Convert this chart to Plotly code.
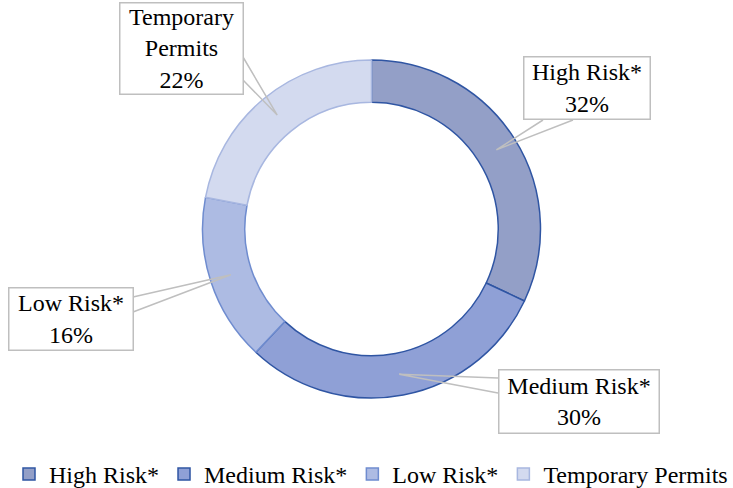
import math
import plotly.graph_objects as go

# ---- data ----
categories = ["High Risk*", "Medium Risk*", "Low Risk*", "Temporary Permits"]
values = [32, 30, 16, 22]
box_labels = ["High Risk*<br>32%", "Medium Risk*<br>30%", "Low Risk*<br>16%", "Temporary<br>Permits<br>22%"]

# ---- style ----
fills = ["#939fc7", "#8fa0d6", "#adbbe3", "#d3daef"]
edges = ["#2f55a3", "#2f55a3", "#6f8ccf", "#a8b7e0"]
W, H = 733, 488
CX, CY, R = 371.5, 229.0, 169.0
HOLE = 0.75
FONT = "Times New Roman, Liberation Serif, serif"
FS = 24

# label boxes: centre x, centre y, width, height (px from top-left)
boxes = [(586.5, 88.5, 127, 63), (578.5, 401, 161, 64), (70.5, 318.5, 125, 63), (181, 49, 124, 92)]
# callout base points on box edges (px)
bases = [((543, 120), (573, 120)),
         ((498, 378), (498, 393)),
         ((133, 297), (133, 312)),
         ((243, 57), (243, 80))]

def px(x, y):
    return x / W, 1 - y / H

fig = go.Figure(go.Pie(
    labels=categories, values=values, sort=False, direction="clockwise",
    hole=HOLE, textinfo="none", hoverinfo="label+percent",
    marker=dict(colors=fills, line=dict(color=edges, width=1.5)),
    domain=dict(x=[(CX - R) / W, (CX + R) / W], y=[(H - CY - R) / H, (H - CY + R) / H]),
))

total = sum(values)
cum = 0.0
rmid = R * (1 + HOLE) / 2
shapes, annotations = [], []
for i, v in enumerate(values):
    mid = (cum + v / 2) / total
    cum += v
    ang = 2 * math.pi * mid
    tx, ty = CX + rmid * math.sin(ang), CY - rmid * math.cos(ang)
    (b1x, b1y), (b2x, b2y) = bases[i]
    p1, pt, p2 = px(b1x, b1y), px(tx, ty), px(b2x, b2y)
    shapes.append(dict(type="path", xref="paper", yref="paper", layer="above",
                       path=f"M{p1[0]},{p1[1]} L{pt[0]},{pt[1]} L{p2[0]},{p2[1]}",
                       line=dict(color="#bfbfbf", width=1.5)))
    bx, by, bw, bh = boxes[i]
    cx, cy = px(bx, by)
    annotations.append(dict(x=cx, y=cy, xref="paper", yref="paper",
                            xanchor="center", yanchor="middle", text=box_labels[i],
                            showarrow=False, width=bw - 2, height=bh - 2, borderpad=0,
                            bgcolor="white", bordercolor="#bfbfbf", borderwidth=1.5,
                            font=dict(family=FONT, size=FS, color="black"), align="center"))

fig.update_layout(
    width=W, height=H, margin=dict(l=0, r=0, t=0, b=0, autoexpand=False),
    paper_bgcolor="white", plot_bgcolor="white",
    shapes=shapes, annotations=annotations,
    showlegend=True,
    legend=dict(orientation="h", x=9 / W, xanchor="left", y=-9 / H, yanchor="bottom",
                font=dict(family=FONT, size=FS, color="black"), traceorder="normal"),
)

fig.write_html("out.html", config={"displayModeBar": False},
               post_script="document.body.style.margin='0px';")
